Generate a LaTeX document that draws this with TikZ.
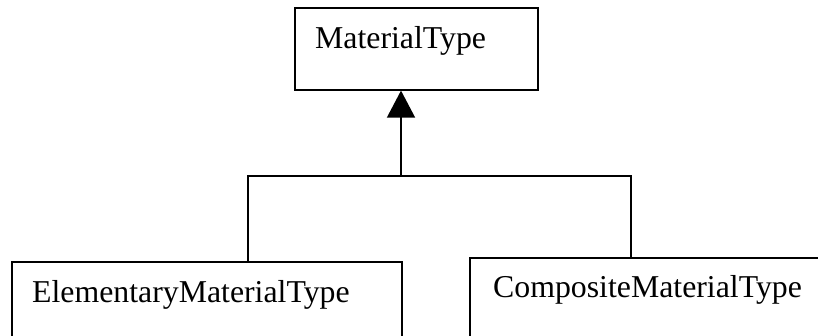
\documentclass[tikz,border=0pt]{standalone}
\usepackage{fontspec}
\setmainfont{Liberation Serif}
\usetikzlibrary{arrows.meta}
\begin{document}
\begin{tikzpicture}[x=1pt,y=-1pt,
  classbox/.style={draw=black,line width=1.6pt,rectangle,inner sep=0pt,anchor=north west},
  classname/.style={anchor=base west,inner sep=0pt,font=\fontsize{31.8}{38}\selectfont},
  link/.style={draw=black,line width=1.6pt}]
  \useasboundingbox (0,0) rectangle (818,335);
  \clip (0,0) rectangle (818,335);
  % class boxes
  \node[classbox,minimum width=243pt,minimum height=82pt] (mt) at (294,7) {};
  \node[classbox,minimum width=390pt,minimum height=100pt] (el) at (11,261) {};
  \node[classbox,minimum width=400pt,minimum height=100pt] (cm) at (469,257) {};
  % class names
  \node[classname] (mtl) at (315,48) {MaterialType};
  \node[classname] (ell) at (32,302) {ElementaryMaterialType};
  \node[classname] (cml) at (493,297) {CompositeMaterialType};
  % generalization connector
  \coordinate (j) at (401,176);
  \coordinate (jl) at (248,176);
  \coordinate (jr) at (631,176);
  \draw[link] (el.north -| jl) -- (jl) -- (jr) -- (cm.north -| jr);
  \draw[link,-{Triangle[width=28pt,length=27pt]}] (j) -- (j |- mt.south);
\end{tikzpicture}
\end{document}
